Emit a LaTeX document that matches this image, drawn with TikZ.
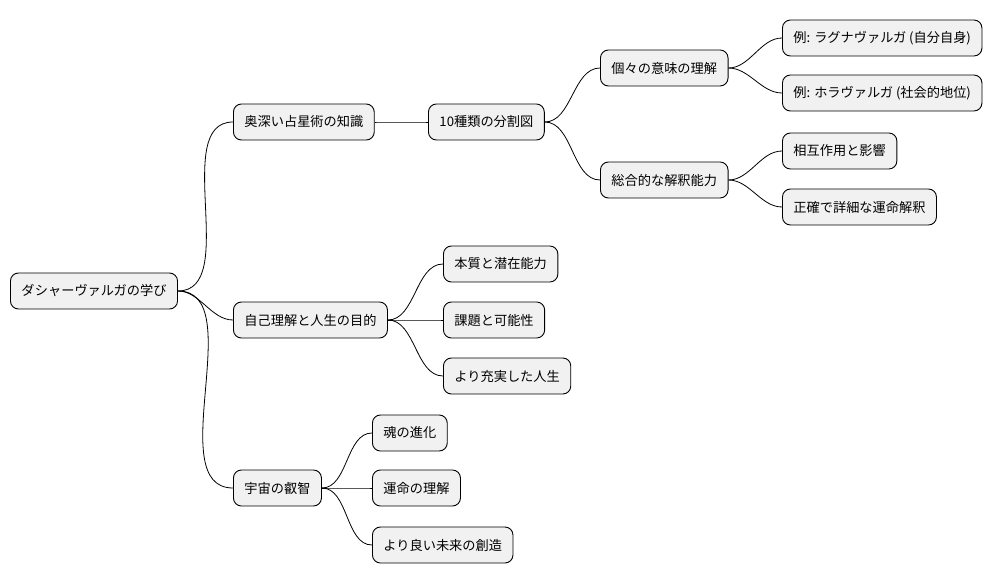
\documentclass[tikz,border=0pt]{standalone}
\usepackage{fontspec}
\setmainfont{Noto Sans CJK JP}
\begin{document}
\begin{tikzpicture}[x=1pt,y=-1pt,
  topic/.style={draw=black,fill={rgb,255:red,241;green,241;blue,241},rounded corners=8pt,
    line width=0.9pt,minimum height=36pt,inner xsep=11pt,anchor=west,
    font=\fontsize{13.2}{15}\selectfont},
  link/.style={line width=0.8pt,out=0,in=180,looseness=0.9}]
\useasboundingbox (0,0) rectangle (1007,583);
% nodes
\node[topic] (root) at (10,291) {ダシャーヴァルガの学び};
\node[topic] (astro) at (233,122) {奥深い占星術の知識};
\node[topic] (charts) at (428,122) {10種類の分割図};
\node[topic] (each) at (600,68) {個々の意味の理解};
\node[topic] (lagna) at (782,38) {例: ラグナヴァルガ (自分自身)};
\node[topic] (hora) at (782,93) {例: ホラヴァルガ (社会的地位)};
\node[topic] (whole) at (600,180) {総合的な解釈能力};
\node[topic] (inter) at (782,151) {相互作用と影響};
\node[topic] (exact) at (782,207) {正確で詳細な運命解釈};
\node[topic] (self) at (233,320) {自己理解と人生の目的};
\node[topic] (core) at (443,264) {本質と潜在能力};
\node[topic] (task) at (443,320) {課題と可能性};
\node[topic] (life) at (443,376) {より充実した人生};
\node[topic] (cosmos) at (233,488) {宇宙の叡智};
\node[topic] (soul) at (372,433) {魂の進化};
\node[topic] (fate) at (372,488) {運命の理解};
\node[topic] (future) at (372,545) {より良い未来の創造};
% connectors
\foreach \p/\c in {root/astro,root/self,root/cosmos,astro/charts,charts/each,charts/whole,
  each/lagna,each/hora,whole/inter,whole/exact,self/core,self/task,self/life,
  cosmos/soul,cosmos/fate,cosmos/future}
  \draw[link] (\p.east) to (\c.west);
\end{tikzpicture}
\end{document}
